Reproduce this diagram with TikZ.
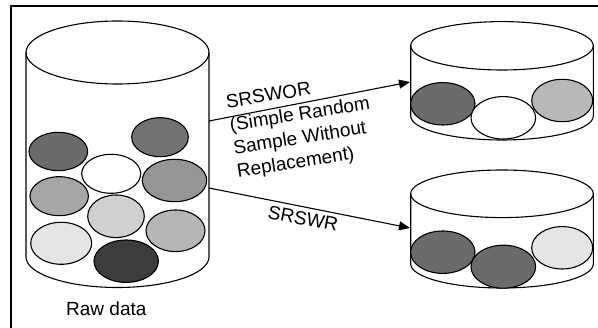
\documentclass[tikz,border=0pt]{standalone}
\usepackage{fontspec}
\setmainfont{Liberation Sans}
\usetikzlibrary{arrows.meta}
\definecolor{gA}{HTML}{6B6B6B}
\definecolor{gB}{HTML}{727272}
\definecolor{gC}{HTML}{959595}
\definecolor{gD}{HTML}{A6A6A6}
\definecolor{gE}{HTML}{D0D0D0}
\definecolor{gF}{HTML}{B6B6B6}
\definecolor{gG}{HTML}{E5E5E5}
\definecolor{gH}{HTML}{3C3C3C}
\definecolor{gI}{HTML}{B8B8B8}
\begin{document}
\begin{tikzpicture}[x=1pt,y=-1pt,
  ln/.style={line width=1.1pt, draw=black},
  ball/.style={draw=black, line width=1.1pt},
  lbl/.style={inner sep=0pt, font=\fontsize{19}{23.5}\selectfont},
  arr/.style={line width=1.1pt, -{Triangle[length=11pt,width=9pt]}}]
\useasboundingbox (0,0) rectangle (598,328);
\draw[line width=1.4pt] (600,6) -- (11,6) -- (11,330);
% left cylinder (raw data)
\draw[ln] (117.5,52.5) ellipse [x radius=91.5, y radius=31.5];
\draw[ln] (26,52.5) -- (26,257) arc[start angle=180, end angle=0, x radius=91.5, y radius=30.5] -- (209,52.5);
\draw[ball, fill=gA] (58.3,151.5) ellipse [x radius=29.3, y radius=19.2];
\draw[ball, fill=gB] (160,137.2) ellipse [x radius=28.3, y radius=19.5];
\draw[ball, fill=white] (111.2,173.8) ellipse [x radius=29.5, y radius=19.5];
\draw[ball, fill=gC] (174.5,180.5) ellipse [x radius=32.2, y radius=21.2];
\draw[ball, fill=gD] (59.2,196.2) ellipse [x radius=29.2, y radius=19.5];
\draw[ball, fill=gE] (116,216.3) ellipse [x radius=28.3, y radius=21.3];
\draw[ball, fill=gF] (175.5,230.8) ellipse [x radius=29.5, y radius=20.8];
\draw[ball, fill=gG] (61.2,243.3) ellipse [x radius=30.5, y radius=21];
\draw[ball, fill=gH] (126.2,261.2) ellipse [x radius=32.2, y radius=21.2];
\node[lbl, anchor=base west] (raw) at (66,316) {Raw data};
% top right cylinder (SRSWOR)
\draw[ln] (502,45.8) ellipse [x radius=91.3, y radius=24.2];
\draw[ln] (410.7,45.8) -- (410.7,116) arc[start angle=180, end angle=0, x radius=91.3, y radius=24] -- (593.3,45.8);
\draw[ball, fill=gA] (442.8,103.8) ellipse [x radius=32.2, y radius=21.2];
\draw[ball, fill=white] (503.3,117.8) ellipse [x radius=32.3, y radius=21.2];
\draw[ball, fill=gI] (562.2,100.5) ellipse [x radius=30.5, y radius=21.2];
% bottom right cylinder (SRSWR)
\draw[ln] (502,193.8) ellipse [x radius=91.3, y radius=23.8];
\draw[ln] (410.7,193.8) -- (410.7,264) arc[start angle=180, end angle=0, x radius=91.3, y radius=24] -- (593.3,193.8);
\draw[ball, fill=gA] (442.8,252.2) ellipse [x radius=32.2, y radius=21.2];
\draw[ball, fill=gA] (503.3,266.7) ellipse [x radius=32.3, y radius=21.5];
\draw[ball, fill=gG] (562.2,247.8) ellipse [x radius=30.5, y radius=21.2];
% connectors
\coordinate (rawTop) at (209,121);
\coordinate (rawBot) at (209,188);
\coordinate (worIn) at (410,82);
\coordinate (wrIn) at (410,228);
\draw[arr] (rawTop) -- (worIn);
\draw[arr] (rawBot) -- (wrIn);
\node[lbl, rotate=9, anchor=base west, align=left] (worlbl) at (238,177.7) {SRSWOR\\(Simple Random\\Sample Without\\Replacement)};
\node[lbl, rotate=-11, anchor=base west] (wrlbl) at (267,218) {SRSWR};
\end{tikzpicture}
\end{document}
